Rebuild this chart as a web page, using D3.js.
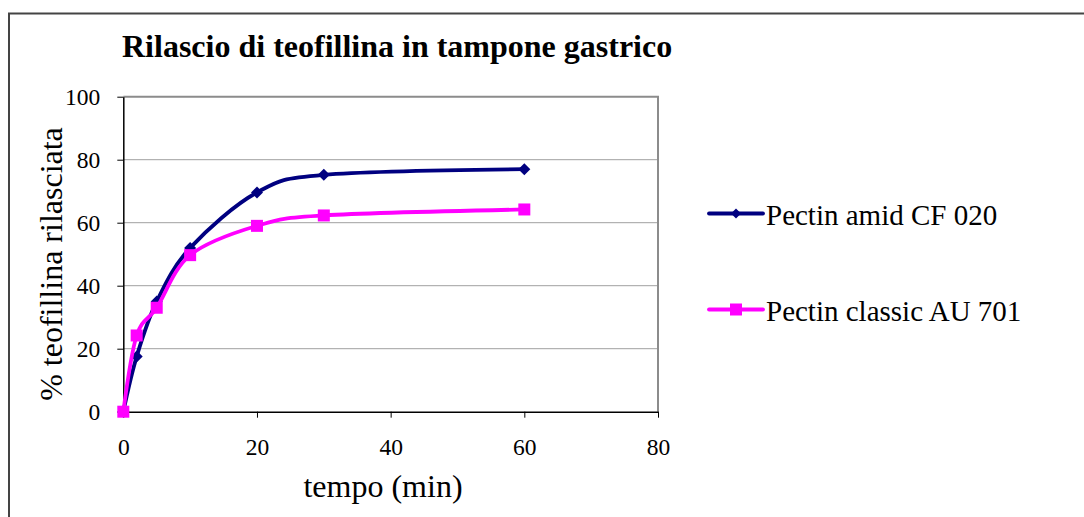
<!DOCTYPE html>
<html>
<head>
<meta charset="utf-8">
<script src="https://cdn.jsdelivr.net/npm/d3@7"></script>
<style>
  html, body { margin: 0; padding: 0; background: #fff; }
  svg { display: block; font-family: "Liberation Serif", "Times New Roman", serif; }
</style>
</head>
<body>
<svg id="chart" width="1084" height="517"></svg>
<script>
// Release data (time in minutes, % theophylline released)
const tempo = [0, 2, 5, 10, 20, 30, 60];
const amidCF020 = [0, 17.5, 35, 52, 69.6, 75.2, 77];
const classicAU701 = [0, 24.2, 33, 49.7, 59, 62.3, 64.2];
const seriesNames = ["Pectin amid CF 020", "Pectin classic AU 701"];
const xTicks = [0, 20, 40, 60, 80];
const yTicks = [0, 20, 40, 60, 80, 100];

const svg = d3.select("#chart");

// outer chart frame
svg.append("rect")
  .attr("x", 9).attr("y", 13.5)
  .attr("width", 1100).attr("height", 520)
  .attr("fill", "none").attr("stroke", "#444").attr("stroke-width", 2);

const plot = { left: 123.3, right: 658, top: 96.7, bottom: 411.7 };

const x = d3.scaleLinear().domain([0, 80]).range([plot.left, plot.right]);
const y = d3.scaleLinear().domain([0, 100]).range([plot.bottom, plot.top]);

// gridlines
svg.append("g").selectAll("line")
  .data(yTicks.filter(d => d > 0 && d < 100))
  .join("line")
  .attr("x1", plot.left).attr("x2", plot.right)
  .attr("y1", d => y(d)).attr("y2", d => y(d))
  .attr("stroke", "#a0a0a0").attr("stroke-width", 1);

// plot area top/right border
svg.append("path")
  .attr("d", `M${plot.left},${plot.top}H${plot.right}V${plot.bottom}`)
  .attr("fill", "none").attr("stroke", "#8c8c8c").attr("stroke-width", 2);

// axes
const xAxis = svg.append("g")
  .attr("transform", `translate(0,${plot.bottom})`)
  .call(d3.axisBottom(x).tickValues(xTicks).tickSize(6).tickPadding(21).tickSizeOuter(0));
const yAxis = svg.append("g")
  .attr("transform", `translate(${plot.left},0)`)
  .call(d3.axisLeft(y).tickValues(yTicks).tickSize(6).tickPadding(17).tickSizeOuter(0));

[xAxis, yAxis].forEach(g => {
  g.attr("font-family", null).attr("font-size", null);
  g.select(".domain").attr("stroke", "#000").attr("stroke-width", 1.5);
  g.selectAll(".tick line").attr("stroke", "#000").attr("stroke-width", 1);
  g.selectAll(".tick text")
    .attr("fill", "#000")
    .style("font-family", "'Liberation Serif', serif")
    .style("font-size", "23.5px");
});

// title
svg.append("text")
  .attr("x", 122).attr("y", 57)
  .style("font-size", "32px").style("font-weight", "bold")
  .attr("fill", "#000")
  .text("Rilascio di teofillina in tampone gastrico");

// axis titles
svg.append("text")
  .attr("x", 383).attr("y", 497)
  .attr("text-anchor", "middle")
  .style("font-size", "32px")
  .text("tempo (min)");

svg.append("text")
  .attr("transform", "translate(62,264) rotate(-90)")
  .attr("text-anchor", "middle")
  .style("font-size", "32px")
  .text("% teofillina rilasciata");

// series
const series = [
  { name: seriesNames[0], values: amidCF020, color: "#000080", marker: "diamond" },
  { name: seriesNames[1], values: classicAU701, color: "#FF00FF", marker: "square" }
];

const line = d3.line()
  .x(d => x(d[0])).y(d => y(d[1]))
  .curve(d3.curveCardinal.tension(0));

function drawMarker(g, kind, color, cx, cy, s) {
  if (kind === "diamond") {
    g.append("path")
      .attr("d", `M${cx},${cy - s}L${cx + s},${cy}L${cx},${cy + s}L${cx - s},${cy}Z`)
      .attr("fill", color);
  } else {
    g.append("rect")
      .attr("x", cx - s).attr("y", cy - s)
      .attr("width", 2 * s).attr("height", 2 * s)
      .attr("fill", color);
  }
}

series.forEach(s => {
  const pts = tempo.map((t, i) => [t, s.values[i]]);
  svg.append("path")
    .datum(pts)
    .attr("d", line)
    .attr("fill", "none")
    .attr("stroke", s.color)
    .attr("stroke-width", 3.8)
    .attr("stroke-linejoin", "round");
  const mg = svg.append("g");
  pts.forEach(p => drawMarker(mg, s.marker, s.color, x(p[0]), y(p[1]), 6));
});

// legend
const legendY = [213.5, 309.5];
series.forEach((s, i) => {
  const g = svg.append("g");
  g.append("line")
    .attr("x1", 709).attr("x2", 763)
    .attr("y1", legendY[i]).attr("y2", legendY[i])
    .attr("stroke", s.color).attr("stroke-width", 3.8).attr("stroke-linecap", "round");
  drawMarker(g, s.marker, s.color, 736, legendY[i], s.marker === "diamond" ? 5 : 6);
  g.append("text")
    .attr("x", 766).attr("y", legendY[i] + 11)
    .style("font-size", "29px")
    .text(s.name);
});
</script>
</body>
</html>
